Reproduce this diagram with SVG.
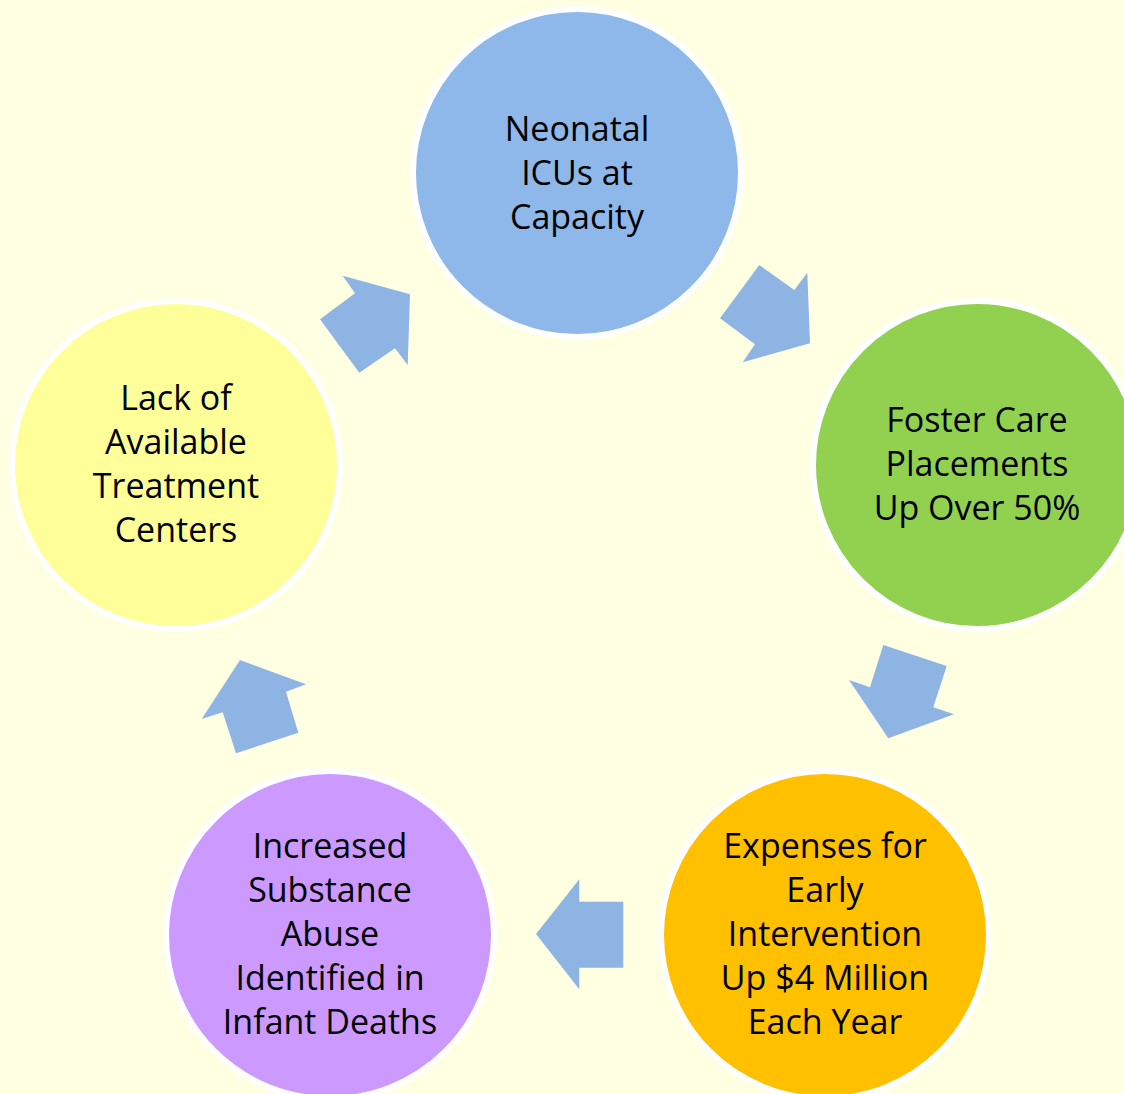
<svg xmlns="http://www.w3.org/2000/svg" width="1124" height="1094" viewBox="0 0 1124 1094">
  <defs>
    <style>
      .node circle { stroke: #FFFFFF; stroke-width: 6; }
      .node text { font-family: "Open Sans", "Liberation Sans", sans-serif; font-size: 34px; fill: #000000; text-anchor: middle; }
      .arrow { fill: #8EB4E3; }
    </style>
  </defs>
  <rect width="1124" height="1094" fill="#FFFFE1"/>

  <g id="connectors">
    <polygon class="arrow" points="342.7,275.7 410,294.3 407.7,365 395,348.3 359.3,372.7 320,319.3 355,293.3"/>
    <polygon class="arrow" points="759.3,265 794.3,290 807.3,272.7 810,343.3 742.7,362.3 755,344.3 720,318.3"/>
    <polygon class="arrow" points="883.3,645 946.7,666 933.3,707.3 954,714.3 888.3,738.3 849,680 870,687.3"/>
    <polygon class="arrow" points="579.3,879.3 579.3,901.7 623.3,901.7 623.3,967.7 579.3,967.7 579.3,989.3 536,934"/>
    <polygon class="arrow" points="240,660 306,684.3 286,691.7 298.3,732.7 236,753.3 222.7,712.3 201.7,719"/>
  </g>

  <g id="node-neonatal" class="node">
    <circle cx="577" cy="173" r="164" fill="#8EB8EA"/>
    <text x="577" y="141">Neonatal</text>
    <text x="577" y="185">ICUs at</text>
    <text x="577" y="229">Capacity</text>
  </g>

  <g id="node-foster" class="node">
    <circle cx="977" cy="465" r="164" fill="#92D050"/>
    <text x="977" y="432">Foster Care</text>
    <text x="977" y="476">Placements</text>
    <text x="977" y="520">Up Over 50%</text>
  </g>

  <g id="node-expenses" class="node">
    <circle cx="825" cy="935" r="164" fill="#FFC000"/>
    <text x="825" y="858">Expenses for</text>
    <text x="825" y="902">Early</text>
    <text x="825" y="946">Intervention</text>
    <text x="825" y="990">Up $4 Million</text>
    <text x="825" y="1034">Each Year</text>
  </g>

  <g id="node-substance" class="node">
    <circle cx="330" cy="935" r="164" fill="#CC99FF"/>
    <text x="330" y="858">Increased</text>
    <text x="330" y="902">Substance</text>
    <text x="330" y="946">Abuse</text>
    <text x="330" y="990">Identified in</text>
    <text x="330" y="1034">Infant Deaths</text>
  </g>

  <g id="node-treatment" class="node">
    <circle cx="176" cy="465" r="164" fill="#FFFF99"/>
    <text x="176" y="410">Lack of</text>
    <text x="176" y="454">Available</text>
    <text x="176" y="498">Treatment</text>
    <text x="176" y="542">Centers</text>
  </g>
</svg>
